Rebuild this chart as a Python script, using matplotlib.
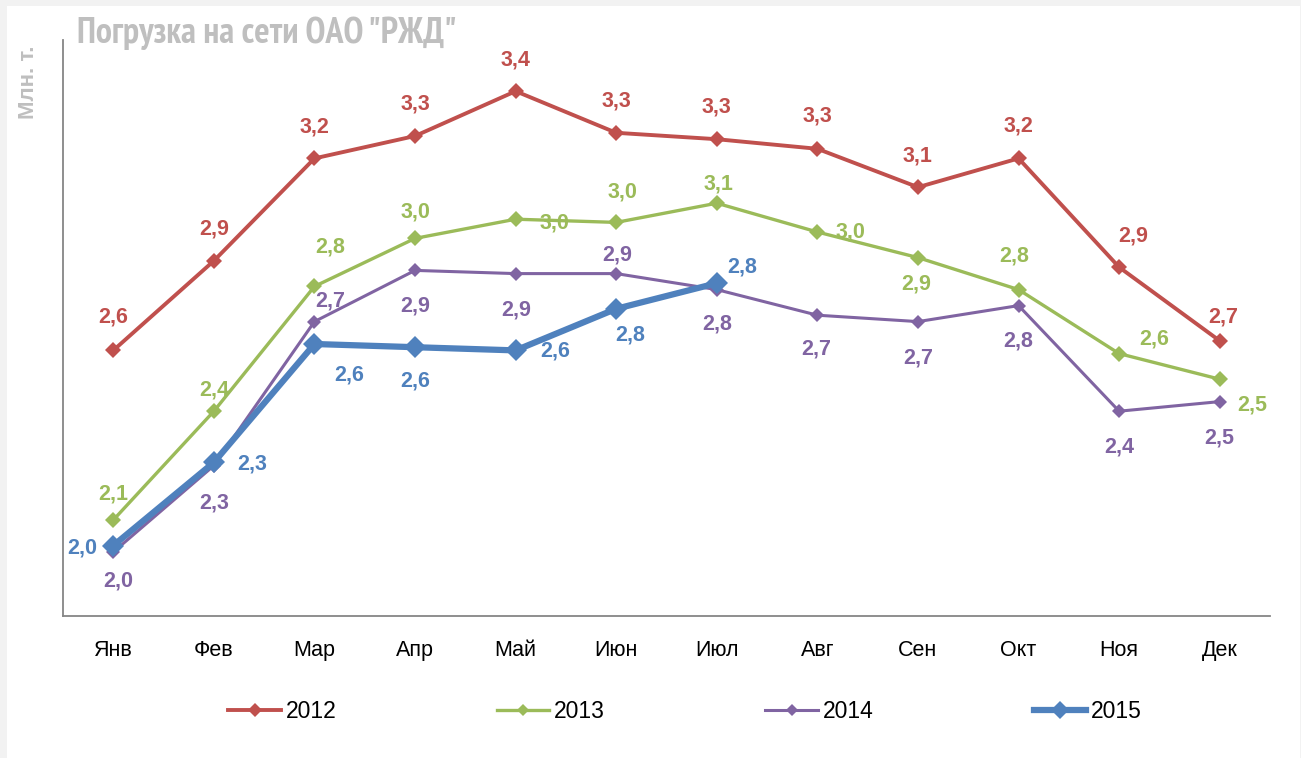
import matplotlib
matplotlib.use("Agg")
import matplotlib.pyplot as plt
from matplotlib.patches import Rectangle

# ---- data ----
months = ["Янв", "Фев", "Мар", "Апр", "Май", "Июн", "Июл", "Авг", "Сен", "Окт", "Ноя", "Дек"]
years = ["2012", "2013", "2014", "2015"]
v2012 = [2.63, 2.91, 3.23, 3.30, 3.44, 3.31, 3.29, 3.26, 3.14, 3.23, 2.89, 2.66]
v2013 = [2.10, 2.44, 2.83, 2.98, 3.04, 3.03, 3.09, 3.00, 2.92, 2.82, 2.62, 2.54]
v2014 = [2.00, 2.27, 2.72, 2.88, 2.87, 2.87, 2.82, 2.74, 2.72, 2.77, 2.44, 2.47]
v2015 = [2.02, 2.28, 2.65, 2.64, 2.63, 2.76, 2.84]

# ---- label offsets (pixels, dx, dy up) ----
off2012 = [(0, 33), (0, 32), (0, 31), (0, 32), (0, 31), (0, 32), (0, 32), (0, 33), (0, 31), (0, 32), (14, 31), (4, 24)]
off2013 = [(0, 26), (0, 21), (16, 39), (0, 26), (39, -4), (6, 30), (2, 19), (33, 0), (-2, -26), (-4, 34), (35, 15), (33, -26)]
off2014 = [(5, -29), (0, -37), (16, 21), (0, -36), (1, -36), (1, 19), (0, -34), (-1, -34), (0, -36), (0, -35), (0, -36), (0, -36)]
off2015 = [(-31, -2), (38, -2), (35, -31), (0, -34), (40, -1), (14, -26), (25, 16)]

colors = ["#C0504D", "#9BBB59", "#8064A2", "#4F81BD"]
lws = [2.8, 2.4, 2.2, 4.5]
mss = [8.5, 8, 7.5, 11.5]

W, H = 1301, 758
fig = plt.figure(figsize=(W / 100, H / 100), dpi=100)
fig.patch.set_facecolor("#F2F2F2")
fig.patches.append(Rectangle((7 / W, 0), (1300 - 7) / W, 1 - 6 / H, transform=fig.transFigure,
                             facecolor="white", edgecolor="none", zorder=-10))

ax = fig.add_axes([63 / W, 1 - 616 / H, (1270 - 63) / W, (616 - 40) / H])
ax.set_facecolor("none")

narrow = ["PT Sans Narrow", "Liberation Sans", "DejaVu Sans"]
reg = ["Liberation Sans", "DejaVu Sans"]

series = [v2012, v2013, v2014, v2015]
offs = [off2012, off2013, off2014, off2015]
handles = []
for i, (vals, off) in enumerate(zip(series, offs)):
    xs = list(range(len(vals)))
    ln, = ax.plot(xs, vals, color=colors[i], lw=lws[i], marker="D", ms=mss[i],
                  markeredgewidth=0, zorder=3 + i, solid_joinstyle="round")
    handles.append(ln)
    for x, v, (dx, dy) in zip(xs, vals, off):
        ax.annotate(f"{v:.1f}".replace(".", ","), (x, v), xytext=(dx, dy), textcoords="offset pixels",
                    ha="center", va="center", fontsize=15.5, fontweight="bold", color=colors[i],
                    family=reg, zorder=10)

ax.set_xlim(-0.5, 11.5)
ax.set_ylim(1.8, 3.6)
ax.set_xticks(range(12))
ax.set_xticklabels(months, family=reg, fontsize=15.5)
ax.set_yticks([])
ax.tick_params(axis="x", length=0, pad=17)
for s in ["top", "right"]:
    ax.spines[s].set_visible(False)
for s in ["left", "bottom"]:
    ax.spines[s].set_color("#868686")
    ax.spines[s].set_linewidth(1.3)

leg = fig.legend(handles, years, loc="center", bbox_to_anchor=(685 / W, 1 - 712 / H), ncol=4,
                 frameon=False, handlelength=2.3, handletextpad=0.2, columnspacing=7.0,
                 markerscale=0.8, prop={"family": reg, "size": 16.5})

fig.text(77 / W, 1 - 43 / H, 'Погрузка на сети ОАО "РЖД"', family=narrow, fontweight="bold",
         fontsize=26, color="#BFBFBF", ha="left", va="baseline")
fig.text(28 / W, 1 - 82 / H, "Млн. т.", family=reg, fontweight="bold", fontsize=16,
         color="#BFBFBF", rotation=90, ha="center", va="center")

fig.savefig("out.png", dpi=100, facecolor=fig.get_facecolor())
